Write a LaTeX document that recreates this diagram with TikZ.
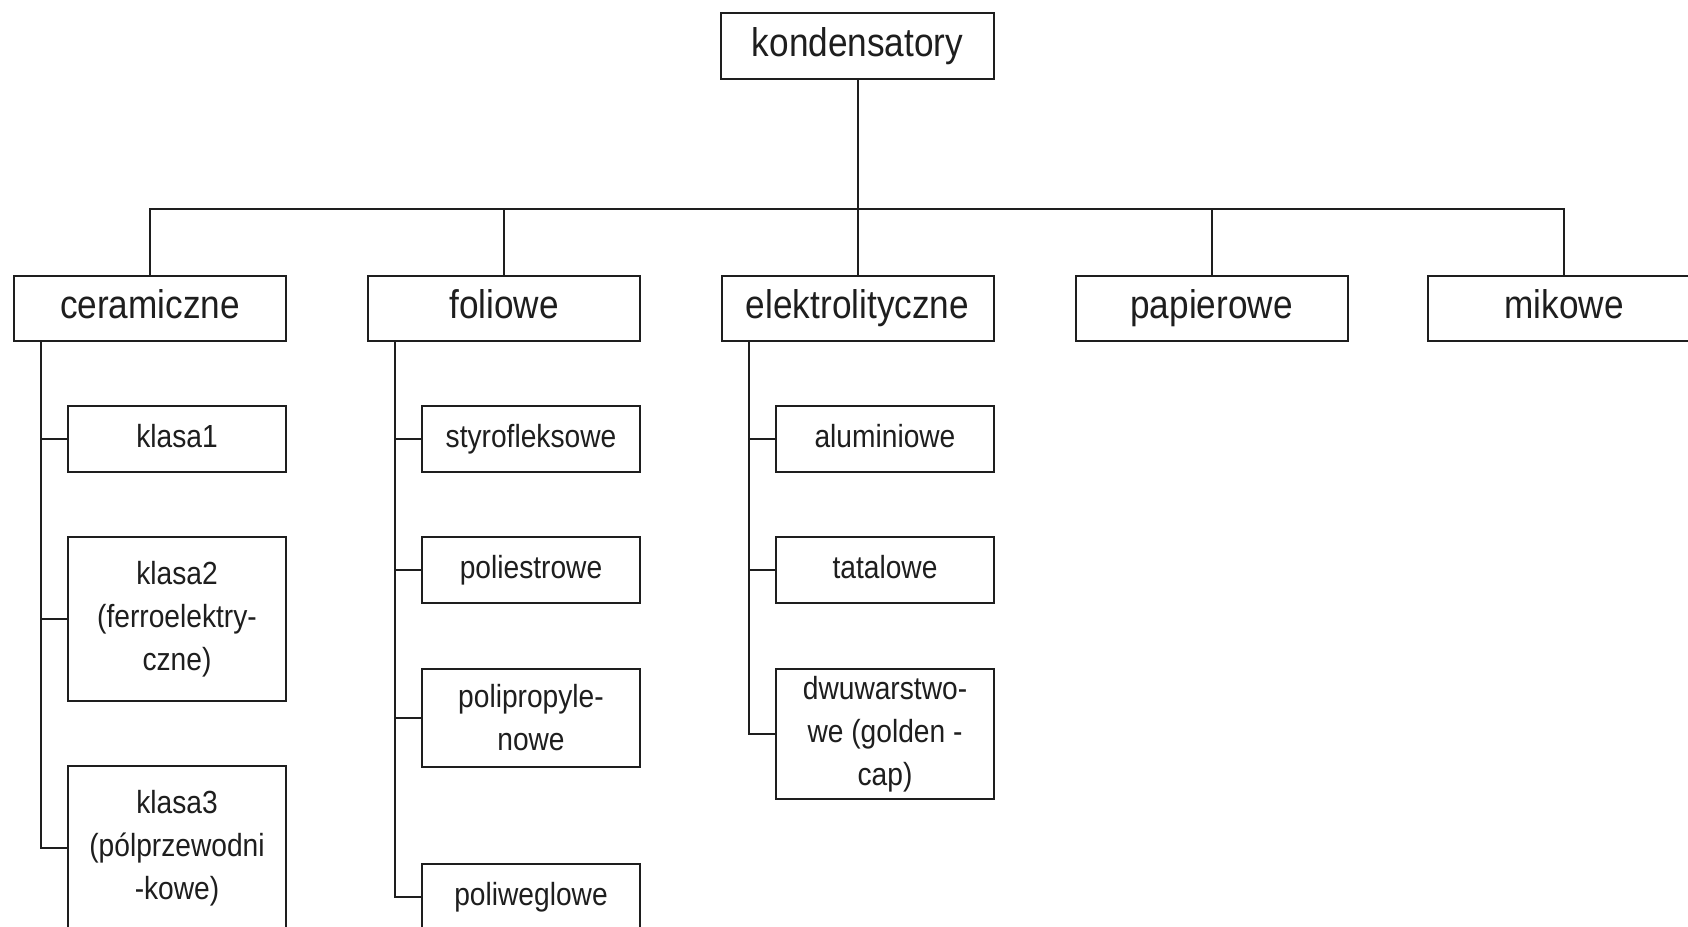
\documentclass[tikz,border=0pt]{standalone}
\usepackage{fontspec}
\newfontfamily\diagf[FakeStretch=0.88]{Liberation Sans}
\definecolor{ink}{HTML}{1E1E1E}
\tikzset{
  box/.style={draw=ink, line width=2pt, rectangle, inner sep=0pt, align=center, text=ink},
  topbox/.style={box, minimum width=272pt, minimum height=65.5pt, text height=29pt, text depth=8pt, font={\diagf\fontsize{40}{44}\selectfont}},
  subbox/.style={box, minimum width=218pt, font={\diagf\fontsize{32}{43}\selectfont}},
  oneline/.style={text height=23pt, text depth=6.5pt},
  link/.style={draw=ink, line width=2pt}
}
\begin{document}
\begin{tikzpicture}[x=1pt,y=-1pt]
\useasboundingbox (0,0) rectangle (1688,926);
\clip (0,0) rectangle (1688,926);
\fill[white] (0,0) rectangle (1688,926);

% root
\node[topbox, minimum width=273pt, minimum height=66pt] (root) at (857.5,46) {kondensatory};
\coordinate (bus) at (857.5,209);

% level 1
\node[topbox] (cer) at (150,308.3) {ceramiczne};
\node[topbox] (fol) at (504,308.3) {foliowe};
\node[topbox] (ele) at (857.5,308.3) {elektrolityczne};
\node[topbox] (pap) at (1211.5,308.3) {papierowe};
\node[topbox] (mik) at (1564,308.3) {mikowe};

% ceramiczne children
\node[subbox, oneline, minimum height=65.5pt] (k1) at (177,438.8) {klasa1};
\node[subbox, minimum height=164pt] (k2) at (177,619) {klasa2\\(ferroelektry-\\czne)};
\node[subbox, minimum height=164pt] (k3) at (177,848.3) {klasa3\\(pólprzewodni\\-kowe)};

% foliowe children
\node[subbox, oneline, minimum height=65.5pt] (f1) at (531,438.8) {styrofleksowe};
\node[subbox, oneline, minimum height=66pt] (f2) at (531,570) {poliestrowe};
\node[subbox, minimum height=98pt] (f3) at (531,717.5) {polipropyle-\\nowe};
\node[subbox, oneline, minimum height=66pt] (f4) at (531,897.2) {poliweglowe};

% elektrolityczne children
\node[subbox, oneline, minimum height=65.5pt] (e1) at (885,438.8) {aluminiowe};
\node[subbox, oneline, minimum height=66pt] (e2) at (885,570) {tatalowe};
\node[subbox, minimum height=130.5pt] (e3) at (885,733.8) {dwuwarstwo-\\we (golden -\\cap)};

% top tree
\draw[link] (root.south) -- (bus);
\draw[link] (cer.north) |- (mik.north |- bus) -- (mik.north);
\draw[link] (fol.north) -- (fol.north |- bus);
\draw[link] (ele.north) -- (ele.north |- bus);
\draw[link] (pap.north) -- (pap.north |- bus);

% ceramiczne branch
\coordinate (ct) at ([xshift=28pt]cer.south west);
\draw[link] (ct) |- (k3.west);
\draw[link] (k1.west) -- (k1.west -| ct);
\draw[link] (k2.west) -- (k2.west -| ct);

% foliowe branch
\coordinate (ft) at ([xshift=28pt]fol.south west);
\draw[link] (ft) |- (f4.west);
\draw[link] (f1.west) -- (f1.west -| ft);
\draw[link] (f2.west) -- (f2.west -| ft);
\draw[link] (f3.west) -- (f3.west -| ft);

% elektrolityczne branch
\coordinate (et) at ([xshift=28pt]ele.south west);
\draw[link] (et) |- (e3.west);
\draw[link] (e1.west) -- (e1.west -| et);
\draw[link] (e2.west) -- (e2.west -| et);
\end{tikzpicture}
\end{document}
